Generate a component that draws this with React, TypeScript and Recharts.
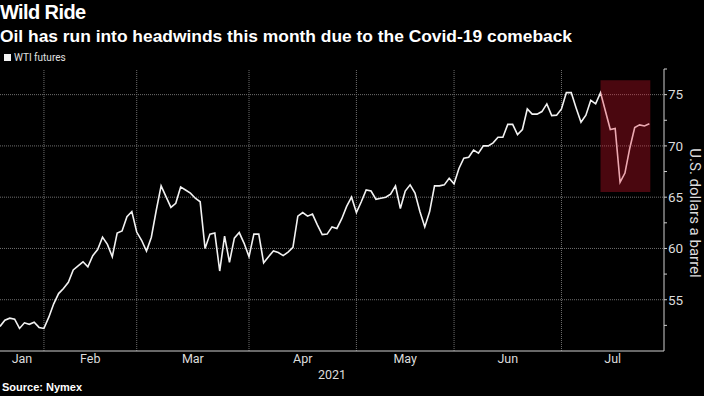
import {
  CartesianGrid,
  Line,
  LineChart,
  ReferenceArea,
  ReferenceLine,
  XAxis,
  YAxis,
} from "recharts";

// trading-day index where each month starts (last entry = end of July)
const MONTH_STARTS = [0, 9, 28, 51, 73, 93, 115, 136];
const MONTHS = ["Jan", "Feb", "Mar", "Apr", "May", "Jun", "Jul"];

// WTI front-month close, one value per trading day from mid-January 2021
const WTI = [
  52.4, 53.0, 53.2, 53.1, 52.2, 52.75, 52.6, 52.8, 52.3, 52.2,
  53.3, 54.6, 55.6, 56.1, 56.7, 57.9, 58.3, 58.7, 58.2, 59.3,
  59.9, 61.1, 60.4, 59.2, 61.5, 61.7, 63.1, 63.6, 61.6, 60.8,
  59.75, 61.1, 63.7, 66.1, 65.05, 64.0, 64.4, 66.0, 65.7, 65.4,
  64.9, 64.55, 60.0, 61.4, 61.5, 57.8, 61.2, 58.65, 61.0, 61.55,
  60.5, 59.2, 61.4, 61.4, 58.6, 59.2, 59.75, 59.6, 59.3, 59.65,
  60.1, 63.15, 63.5, 63.15, 63.35, 62.3, 61.35, 61.4, 62.1, 61.95,
  62.9, 64.1, 65.0, 63.5, 64.55, 65.7, 65.6, 64.8, 64.9, 65.0,
  65.3, 66.1, 63.9, 65.6, 66.2, 65.4, 63.6, 62.1, 63.6, 66.1,
  66.1, 66.2, 66.85, 66.3, 67.8, 68.8, 68.9, 69.6, 69.3, 70.0,
  70.0, 70.3, 70.85, 70.85, 72.1, 72.1, 71.1, 71.6, 73.6, 73.1,
  73.1, 73.35, 74.1, 72.95, 73.0, 73.6, 75.2, 75.2, 73.7, 72.3,
  73.0, 74.45, 74.1, 75.2, 73.4, 71.6, 71.7, 66.45, 67.35, 69.8,
  71.8, 72.05, 71.95, 72.15,
];

const Y_TICKS = [52.5, 55, 57.5, 60, 62.5, 65, 67.5, 70, 72.5, 75, 77.5];
const Y_GRID = [55, 60, 65, 70, 75];

// highlighted July slide
const HIGHLIGHT = { x1: 123, x2: 133.2, y1: 65.5, y2: 76.4 };

const data = WTI.map((price, i) => ({ i, price }));
const boundaryTicks = MONTH_STARTS.slice(1, -1);
const labelTicks = MONTHS.map((_, k) => (MONTH_STARTS[k] + MONTH_STARTS[k + 1]) / 2);

const AXIS = "#cfcfcf";
const GRID = "#6e6e6e";
const FONT = "Roboto, 'Liberation Sans', sans-serif";

export default function App() {
  return (
    <div
      style={{
        position: "absolute",
        left: 0,
        top: 0,
        width: 704,
        height: 396,
        background: "#000",
        overflow: "hidden",
        fontFamily: "'Liberation Sans', sans-serif",
      }}
    >
      <div
        style={{
          position: "absolute",
          left: 0,
          top: 1,
          color: "#fff",
          fontWeight: 700,
          fontSize: 20,
          letterSpacing: -0.6,
        }}
      >
        Wild Ride
      </div>
      <div style={{ position: "absolute", left: 0, top: 26, color: "#fff", fontWeight: 700, fontSize: 17.4 }}>
        Oil has run into headwinds this month due to the Covid-19 comeback
      </div>
      <div
        style={{
          position: "absolute",
          left: 4,
          top: 52,
          display: "flex",
          alignItems: "center",
          color: "#e0e0e0",
          fontSize: 10,
          fontFamily: FONT,
        }}
      >
        <span style={{ width: 7, height: 7, background: "#f2f2f2", marginRight: 3 }} />
        WTI futures
      </div>
      <div style={{ position: "absolute", left: 2, top: 381, color: "#fff", fontWeight: 700, fontSize: 11 }}>
        Source: Nymex
      </div>

      <div style={{ position: "absolute", left: 0, top: 0 }}>
        <LineChart
          width={704}
          height={396}
          data={data}
          margin={{ top: 69, right: 0, bottom: 12, left: 0 }}
        >
          <CartesianGrid
            stroke={GRID}
            strokeDasharray="1 1"
            vertical={false}
            horizontalValues={Y_GRID}
          />
          {boundaryTicks.map((b) => (
            <ReferenceLine key={b} x={b} stroke={GRID} strokeDasharray="1 1" />
          ))}
          <XAxis
            dataKey="i"
            type="number"
            domain={[MONTH_STARTS[0], MONTH_STARTS[MONTH_STARTS.length - 1]]}
            ticks={boundaryTicks}
            tick={false}
            tickSize={3}
            height={2}
            stroke={AXIS}
            allowDataOverflow
          />
          <XAxis
            xAxisId="m"
            dataKey="i"
            type="number"
            domain={[MONTH_STARTS[0], MONTH_STARTS[MONTH_STARTS.length - 1]]}
            ticks={labelTicks}
            tickFormatter={(v: number) => MONTHS[labelTicks.indexOf(v)] ?? ""}
            axisLine={false}
            tickLine={false}
            tickSize={0}
            tickMargin={1}
            height={31}
            interval={0}
            tick={{ fill: "#dcdcdc", fontSize: 12.5, fontFamily: FONT }}
            label={{
              value: "2021",
              position: "insideBottom",
              offset: 5,
              fill: "#dcdcdc",
              fontSize: 12.5,
              fontFamily: FONT,
            }}
          />
          <YAxis
            orientation="right"
            domain={[50, 77.5]}
            ticks={Y_TICKS}
            interval={0}
            width={40}
            tickSize={3}
            tickMargin={1}
            stroke={AXIS}
            allowDataOverflow
            tickFormatter={(v: number) => (v % 5 === 0 ? String(v) : "")}
            tick={{ fill: "#dcdcdc", fontSize: 13.5, fontFamily: FONT }}
            label={{
              content: ({ viewBox }: any) => {
                const cx = viewBox.x + 31;
                const cy = viewBox.y + viewBox.height / 2 + 3;
                return (
                  <text
                    x={cx}
                    y={cy}
                    transform={`rotate(90 ${cx} ${cy})`}
                    textAnchor="middle"
                    dominantBaseline="central"
                    fill="#dcdcdc"
                    fontSize={15}
                    fontFamily={FONT}
                  >
                    U.S. dollars a barrel
                  </text>
                );
              },
            }}
          />
          <Line
            type="linear"
            dataKey="price"
            stroke="#f2f2f2"
            strokeWidth={1.6}
            dot={false}
            activeDot={false}
            isAnimationActive={false}
          />
          <ReferenceArea
            x1={HIGHLIGHT.x1}
            x2={HIGHLIGHT.x2}
            y1={HIGHLIGHT.y1}
            y2={HIGHLIGHT.y2}
            fill="#e0142d"
            fillOpacity={0.33}
            stroke="none"
            zIndex={600}
          />
        </LineChart>
      </div>
    </div>
  );
}
